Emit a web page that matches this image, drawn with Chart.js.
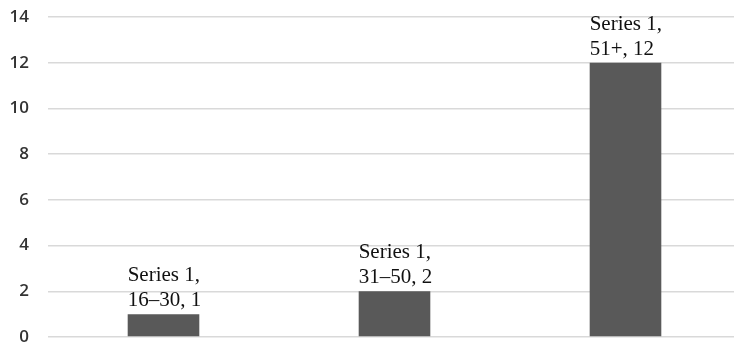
<!DOCTYPE html>
<html>
<head>
<meta charset="utf-8">
<script src="https://cdn.jsdelivr.net/npm/chart.js@4"></script>
<style>
    html, body { margin: 0; padding: 0; background: #fff; overflow: hidden; }
    #wrap { width: 741px; height: 344px; }
</style>
</head>
<body>
<div id="wrap"><canvas id="ageChart"></canvas></div>
<script>
const seriesName = 'Series 1';
const categories = ['16–30', '31–50', '51+'];
const seriesValues = [1, 2, 12];
const yTicks = [0, 2, 4, 6, 8, 10, 12, 14];

// two-line "Series 1, / category, value" label sitting on each bar, left edge on the bar's left edge
const barLabels = {
    id: 'barLabels',
    afterDatasetsDraw(chart) {
        const ctx = chart.ctx;
        const meta = chart.getDatasetMeta(0);
        ctx.save();
        ctx.font = '21px "Liberation Serif", "Times New Roman", serif';
        ctx.fillStyle = '#111';
        ctx.textAlign = 'left';
        ctx.textBaseline = 'alphabetic';
        meta.data.forEach((bar, i) => {
            const left = bar.x - bar.width / 2;
            ctx.fillText(seriesName + ',', left, bar.y - 33);
            ctx.fillText(categories[i] + ', ' + seriesValues[i], left, bar.y - 8);
        });
        ctx.restore();
    }
};

new Chart(document.getElementById('ageChart'), {
    type: 'bar',
    data: {
        labels: categories,
        datasets: [{
            label: seriesName,
            data: seriesValues,
            backgroundColor: '#595959',
            borderWidth: 0,
            categoryPercentage: 1,
            barPercentage: 0.31,
        }],
    },
    options: {
        responsive: true,
        maintainAspectRatio: false,
        animation: false,
        layout: { padding: { top: 17, bottom: 7, left: 0, right: 0 } },
        plugins: {
            legend: { display: false },
            tooltip: { enabled: false },
        },
        scales: {
            x: {
                display: false,
            },
            y: {
                min: 0,
                max: 14,
                afterBuildTicks(axis) {
                    axis.ticks = yTicks.map((v) => ({ value: v }));
                },
                afterFit(axis) {
                    // fixed gutter; let the layout padding set the plot's top and bottom
                    axis.width = 48;
                    axis.paddingTop = 0;
                    axis.paddingBottom = 0;
                },
                ticks: {
                    padding: 19,
                    color: '#333',
                    font: { family: '"Open Sans", sans-serif', size: 17, weight: '600' },
                },
                grid: { color: '#d9d9d9', lineWidth: 1.5, drawTicks: false },
                border: { display: false },
            },
        },
    },
    plugins: [barLabels],
});
</script>
</body>
</html>
